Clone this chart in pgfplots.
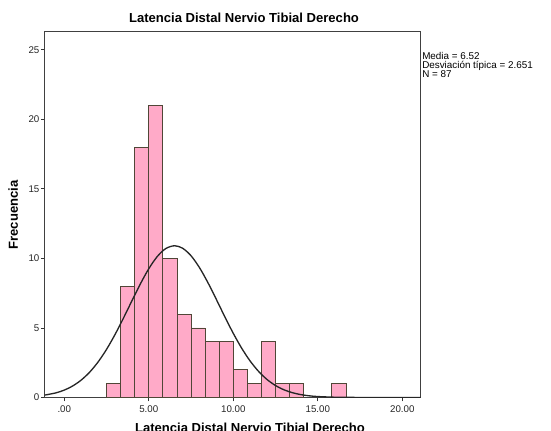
\documentclass[border=0pt]{standalone}
\usepackage{pgfplots}
\pgfplotsset{compat=1.18}
\usepackage{fontspec}
\setmainfont{Liberation Sans}
\definecolor{barpink}{RGB}{255,170,200}
\definecolor{baredge}{RGB}{80,70,55}
\begin{document}
\begin{tikzpicture}
\path[use as bounding box] (-33.75pt,-25.1pt) rectangle (379.5pt,298.1pt);
\clip (-33.75pt,-25.1pt) rectangle (379.5pt,298.1pt);
\begin{axis}[
  at={(0pt,0pt)}, anchor=south west,
  scale only axis, width=281.8pt, height=274.3pt,
  xmin=-1.14, xmax=21.09, ymin=0, ymax=26.3,
  axis line style={black!75, line width=0.75pt},
  tick align=outside, major tick length=3pt,
  tick style={black!80, line width=0.6pt},
  xtick pos=bottom, ytick pos=left,
  xtick={0,5,10,15,20}, xticklabels={.00,5.00,10.00,15.00,20.00},
  ytick={0,5,10,15,20,25}, yticklabels={0,5,10,15,20,25},
  ticklabel style={font=\fontsize{7.3}{8}\selectfont, text=black!85},
  yticklabel style={inner sep=1pt},
]
\addplot[ybar interval, fill=barpink, draw=baredge, line width=0.6pt]
  coordinates {(2.5,1) (3.3333,8) (4.1667,18) (5,21) (5.8333,10) (6.6667,6)
    (7.5,5) (8.3333,4) (9.1667,4) (10,2) (10.8333,1) (11.6667,4) (12.5,1)
    (13.3333,1) (14.1667,0)};
\addplot[ybar interval, fill=barpink, draw=baredge, line width=0.6pt]
  coordinates {(15.8333,1) (16.6667,0)};
\addplot[smooth, line width=1pt, color=black!85, mark=none]
  coordinates {(-1.25,0.149) (-0.5,0.328) (0,0.530) (0.5,0.828) (1,1.248)
    (1.5,1.816) (2,2.550) (2.5,3.455) (3,4.519) (3.5,5.702) (4,6.944)
    (4.5,8.161) (5,9.256) (5.5,10.132) (6,10.702) (6.52,10.91) (7,10.732)
    (7.5,10.190) (8,9.336) (8.5,8.255) (9,7.044) (9.5,5.800) (10,4.609)
    (10.5,3.535) (11,2.616) (11.5,1.869) (12,1.288) (12.5,0.857) (13,0.550)
    (13.5,0.341) (14,0.204) (14.5,0.118) (15,0.065) (16,0.018) (17,0.004)
    (18,0.001) (19,0) (21.2,0)};
\end{axis}
\node[anchor=base, font=\bfseries\fontsize{9.8}{12}\selectfont] at (149.25pt,281.5pt)
  {Latencia Distal Nervio Tibial Derecho};
\node[anchor=base, font=\bfseries\fontsize{9.8}{12}\selectfont] at (153.75pt,-26.3pt)
  {Latencia Distal Nervio Tibial Derecho};
\node[anchor=base, rotate=90, font=\bfseries\fontsize{9.8}{12}\selectfont] at (-20.25pt,136.9pt)
  {Frecuencia};
\node[anchor=base west, inner sep=0pt, font=\fontsize{7.4}{7}\selectfont] at (282.75pt,253.1pt) {Media = 6.52};
\node[anchor=base west, inner sep=0pt, font=\fontsize{7.4}{7}\selectfont] at (282.75pt,246.6pt) {Desviación típica = 2.651};
\node[anchor=base west, inner sep=0pt, font=\fontsize{7.4}{7}\selectfont] at (282.75pt,240.1pt) {N = 87};
\end{tikzpicture}
\end{document}
